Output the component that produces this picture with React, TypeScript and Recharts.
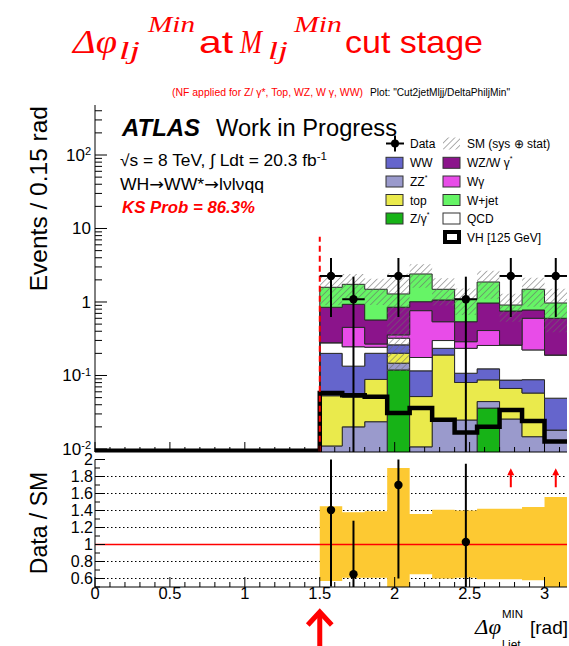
import React from 'react';
import {
  ComposedChart,
  Area,
  Line,
  Scatter,
  ErrorBar,
  XAxis,
  YAxis,
  ReferenceLine,
  CartesianGrid,
} from 'recharts';

// ---------------- data ----------------
const binLow = [0, 0.15, 0.3, 0.45, 0.6, 0.75, 0.9, 1.05, 1.2, 1.35, 1.5, 1.65, 1.8, 1.95, 2.1, 2.25, 2.4, 2.55, 2.7, 2.85, 3.0];
const xMax = 3.15;

const zgamma = [0, 0, 0, 0, 0, 0, 0, 0, 0, 0, 0, 0, 0, 0.119, 0, 0, 0, 0.036, 0, 0, 0];
const zz = [0, 0, 0, 0, 0, 0, 0, 0, 0, 0, 0.011, 0.02, 0.0235, 0.028, 0.0107, 0.024, 0.0248, 0.0082, 0.0256, 0.0147, 0.0181];
const topq = [0, 0, 0, 0, 0, 0, 0, 0, 0, 0, 0.042, 0.031, 0.065, 0.054, 0.041, 0.166, 0.0555, 0.043, 0.041, 0.043, 0];
const ww = [0, 0, 0, 0, 0, 0, 0, 0, 0, 0, 0.147, 0.083, 0.112, 0.06, 0.064, 0.044, 0.027, 0.036, 0.02, 0.03, 0.031];
const qcd = [0, 0, 0, 0, 0, 0, 0, 0, 0, 0, 0.079, 0.112, 0.042, 0.061, 0.06, 0.065, 0.127, 0.133, 0.173, 0.135, 0.141];
const wgamma = [0, 0, 0, 0, 0, 0, 0, 0, 0, 0, 0, 0.206, 0.026, 0.035, 0.587, 0.24, 0.054, 0.153, 0, 0.378, 0];
const wz = [0, 0, 0, 0, 0, 0, 0, 0, 0, 0, 0.568, 0.478, 0.301, 0.492, 0.247, 0.526, 0.251, 0.56, 0.494, 0.178, 0.41];
const wjet = [0, 0, 0, 0, 0, 0, 0, 0, 0, 0, 0.738, 0.81, 0.92, 0.438, 1.395, 0.424, 0.549, 0.902, 0.156, 0.711, 0.369];
const vh = [0.0095, 0.0095, 0.0095, 0.0095, 0.0095, 0.0095, 0.0095, 0.0095, 0.0095, 0.0095, 0.058, 0.054, 0.0515, 0.031, 0.036, 0.025, 0.0167, 0.02, 0.034, 0.024, 0.0126];

// relative SM uncertainty (lower / upper) per bin
const bandUp = [1, 1, 1, 1, 1, 1, 1, 1, 1, 1, 1.45, 1.38, 1.39, 1.9, 1.36, 1.41, 1.4, 1.42, 1.42, 1.44, 1.56];
const bandDn = [1, 1, 1, 1, 1, 1, 1, 1, 1, 1, 0.57, 0.61, 0.61, 0.09, 0.65, 0.6, 0.61, 0.59, 0.59, 0.58, 0.4];

const dataX = [1.575, 1.725, 2.025, 2.475, 2.775, 3.075];
const dataY = [2.26, 1.09, 2.26, 1.09, 2.26, 2.26];
const dataErrUp = [1.71, 1.12, 1.71, 1.12, 1.71, 1.71];
const dataErrDn = [1.635, 1.09, 1.635, 1.09, 1.635, 1.635];

const ratioX = [1.575, 1.725, 2.025, 2.475];
const ratioY = [1.405, 0.65, 1.7, 1.03];
const ratioErr = [0.9, 0.63, 1.1, 0.92];
const arrowX = [2.775, 3.075];
const arrowY = [1.78, 1.78];

const cutValue = 1.5;
const cutLineTop = 7.7;

const yDecades = [0.01, 0.1, 1, 10, 100];
const YMIN = 0.0091;
const YMAX = 479;
const RMIN = 0.5;
const RMAX = 2;
const ratioGrid = [0.6, 0.8, 1.2, 1.4, 1.6, 1.8];

// ---------------- styling ----------------
const FONT = "'Liberation Sans', Arial, Helvetica, sans-serif";
const SERIF = "'Liberation Serif', 'DejaVu Serif', serif";

const layers = [
  { key: 'zgamma', vals: zgamma, color: '#17b317' },
  { key: 'zz', vals: zz, color: '#9a9acc' },
  { key: 'top', vals: topq, color: '#eaea4c' },
  { key: 'ww', vals: ww, color: '#6565cc' },
  { key: 'qcd', vals: qcd, color: '#ffffff' },
  { key: 'wgamma', vals: wgamma, color: '#e84ce8' },
  { key: 'wz', vals: wz, color: '#8b148b' },
  { key: 'wjet', vals: wjet, color: '#66f466' },
];

const FLOOR = 1e-4;
const rows: any[] = [];
for (let i = 0; i <= binLow.length; i++) {
  const b = Math.min(i, binLow.length - 1);
  const row: any = { x: i < binLow.length ? binLow[i] : xMax };
  let cum = 0;
  layers.forEach((l) => {
    const lo = cum;
    cum += l.vals[b];
    row[l.key] = [Math.max(lo, FLOOR), Math.max(cum, FLOOR)];
  });
  row.band = cum > 0 ? [cum * bandDn[b], cum * bandUp[b]] : [FLOOR, FLOOR];
  row.rband = [bandDn[b], bandUp[b]];
  row.vh = vh[b];
  rows.push(row);
}

const dataPts = dataX.map((x, i) => {
  const lowEnd = Math.max(dataY[i] - dataErrDn[i], YMIN);
  return { x, y: dataY[i], ey: [dataY[i] - lowEnd, dataErrUp[i]], ex: 0.075 };
});
const ratioPts = ratioX.map((x, i) => {
  const lo = Math.max(ratioY[i] - ratioErr[i], RMIN);
  const hi = Math.min(ratioY[i] + ratioErr[i], RMAX);
  return { x, y: ratioY[i], ey: [ratioY[i] - lo, hi - ratioY[i]] };
});
const arrowPts = arrowX.map((x, i) => ({ x, y: arrowY[i] }));

const xTicks = Array.from({ length: 32 }, (_, i) => i / 10);
const yLogTicks = yDecades
  .flatMap((d) => [1, 2, 3, 4, 5, 6, 7, 8, 9].map((m) => +(d * m).toPrecision(3)))
  .filter((v) => v <= YMAX);
const rTicks = Array.from({ length: 16 }, (_, i) => +(0.5 + i / 10).toFixed(1));

// ---------------- tick renderers ----------------
const XTick = (props: any) => {
  const { x, y, payload, dir, showLabel } = props;
  const v = payload.value;
  const major = Math.abs(v * 2 - Math.round(v * 2)) < 1e-6;
  const len = major ? 10 : 5;
  const y2 = dir === 'up' ? y - len : y + len;
  return (
    <g>
      <line x1={x} y1={y} x2={x} y2={y2} stroke="#000" strokeWidth={1} />
      {showLabel && major ? (
        <text x={x} y={y + 12} textAnchor="middle" fontSize={16.5} fontFamily={FONT} fill="#000">
          {String(v)}
        </text>
      ) : null}
    </g>
  );
};

const LogTick = (props: any) => {
  const { x, y, payload, side } = props;
  const v = payload.value;
  const lg = Math.log10(v);
  const e = Math.round(lg);
  const major = Math.abs(lg - e) < 1e-6;
  const len = major ? 12 : 7;
  const sgn = side === 'right' ? -1 : 1;
  let label: any = null;
  if (side !== 'right' && major) {
    label = (
      <text x={x - 4} y={y} dy="0.35em" textAnchor="end" fontSize={17} fontFamily={FONT} fill="#000">
        {e === 0 ? '1' : e === 1 ? '10' : (
          <>
            10<tspan dy="-0.5em" fontSize={11}>{String(e)}</tspan>
          </>
        )}
      </text>
    );
  }
  return (
    <g>
      <line x1={x} y1={y} x2={x + sgn * len} y2={y} stroke="#000" strokeWidth={1} />
      {label}
    </g>
  );
};

const RTick = (props: any) => {
  const { x, y, payload, side } = props;
  const v = payload.value;
  const major = Math.abs(v * 5 - Math.round(v * 5)) < 1e-6 && v > 0.55;
  const len = major ? 10 : 5;
  const sgn = side === 'right' ? -1 : 1;
  return (
    <g>
      <line x1={x} y1={y} x2={x + sgn * len} y2={y} stroke="#000" strokeWidth={1} />
      {side !== 'right' && major ? (
        <text x={x - 2} y={y} dy="0.35em" textAnchor="end" fontSize={16} fontFamily={FONT} fill="#000">
          {String(+v.toFixed(1))}
        </text>
      ) : null}
    </g>
  );
};

const DataDot = (p: any) => <circle cx={p.cx} cy={p.cy} r={4.2} fill="#000" />;
const RedArrow = (p: any) => (
  <g>
    <line x1={p.cx} y1={p.cy + 9} x2={p.cx} y2={p.cy - 4} stroke="#ff0000" strokeWidth={2} />
    <path d={`M${p.cx - 3.5},${p.cy - 3} L${p.cx},${p.cy - 10} L${p.cx + 3.5},${p.cy - 3} Z`} fill="#ff0000" />
  </g>
);

const CutArrow = (props: any) => {
  const vb = props.viewBox || {};
  const x = vb.x;
  const yb = (vb.y || 0) + (vb.height || 0);
  if (x == null) return null;
  return (
    <g>
      <line x1={x} y1={yb + 27} x2={x} y2={yb + 62} stroke="#ff0000" strokeWidth={5} />
      <path d={`M${x - 12},${yb + 38} L${x},${yb + 25} L${x + 12},${yb + 38}`} stroke="#ff0000" strokeWidth={5} fill="none" />
    </g>
  );
};

// ---------------- overlay (texts & legend) ----------------
const legendRows = [143.5, 162.8, 181.5, 200, 218.5, 237];
const legendCol1 = [
  { label: 'WW', color: '#6565cc', star: false },
  { label: 'ZZ', color: '#9a9acc', star: true },
  { label: 'top', color: '#eaea4c', star: false },
  { label: 'Z/γ', color: '#17b317', star: true },
];
const legendCol2 = [
  { label: 'WZ/W γ', color: '#8b148b', star: true },
  { label: 'Wγ', color: '#e84ce8', star: false },
  { label: 'W+jet', color: '#66f466', star: false },
  { label: 'QCD', color: '#ffffff', star: false },
];

const ARROWFONT = "'DejaVu Sans', sans-serif";

const Overlay = () => (
  <svg width={569} height={646} style={{ position: 'absolute', left: 0, top: 0, pointerEvents: 'none' }}>
    <defs>
      <pattern id="hatchL" width="4.5" height="4.5" patternUnits="userSpaceOnUse" patternTransform="rotate(45)">
        <line x1="0" y1="0" x2="0" y2="4.5" stroke="#777" strokeWidth="1.2" />
      </pattern>
    </defs>
    {/* title */}
    <g fill="#ff0000">
      <text x={73} y={53} fontFamily={SERIF} fontStyle="italic" fontSize={34} textLength={44} lengthAdjust="spacingAndGlyphs">Δφ</text>
      <text x={119} y={59} fontFamily={SERIF} fontStyle="italic" fontSize={25} textLength={21} lengthAdjust="spacingAndGlyphs">lj</text>
      <text x={148} y={32} fontFamily={SERIF} fontStyle="italic" fontSize={24} textLength={47} lengthAdjust="spacingAndGlyphs">Min</text>
      <text x={199} y={53} fontFamily={FONT} fontSize={32} textLength={34} lengthAdjust="spacingAndGlyphs">at</text>
      <text x={240} y={53} fontFamily={SERIF} fontStyle="italic" fontSize={33} textLength={22} lengthAdjust="spacingAndGlyphs">M</text>
      <text x={268} y={59} fontFamily={SERIF} fontStyle="italic" fontSize={25} textLength={20} lengthAdjust="spacingAndGlyphs">lj</text>
      <text x={294} y={32} fontFamily={SERIF} fontStyle="italic" fontSize={24} textLength={48} lengthAdjust="spacingAndGlyphs">Min</text>
      <text x={345} y={53} fontFamily={FONT} fontSize={32} textLength={138} lengthAdjust="spacingAndGlyphs">cut stage</text>
    </g>
    <text x={172} y={96} fontFamily={FONT} fontSize={10} fill="#ff0000" textLength={191} lengthAdjust="spacingAndGlyphs">
      (NF applied for Z/ γ*, Top, WZ, W γ, WW)
    </text>
    <text x={370} y={96} fontFamily={FONT} fontSize={10} fill="#000" textLength={140} lengthAdjust="spacingAndGlyphs">
      Plot: "Cut2jetMljj/DeltaPhiljMin"
    </text>

    {/* ATLAS block */}
    <text x={122} y={136} fontFamily={FONT} fontSize={23} fontWeight="bold" fontStyle="italic" fill="#000" textLength={78} lengthAdjust="spacingAndGlyphs">ATLAS</text>
    <text x={216} y={136} fontFamily={FONT} fontSize={23} fill="#000" textLength={181} lengthAdjust="spacingAndGlyphs">Work in Progress</text>
    <text x={120} y={166} fontFamily={FONT} fontSize={16.5} fill="#000" textLength={207} lengthAdjust="spacingAndGlyphs">
      √s = 8 TeV, ∫ Ldt = 20.3 fb<tspan dy="-6" fontSize={11}>-1</tspan>
    </text>
    <text x={120} y={190} fontFamily={FONT} fontSize={16.5} fill="#000" textLength={144} lengthAdjust="spacingAndGlyphs">
      WH<tspan fontFamily={ARROWFONT}>→</tspan>WW*<tspan fontFamily={ARROWFONT}>→</tspan>lνlνqq
    </text>
    <text x={122} y={213} fontFamily={FONT} fontSize={16.5} fontWeight="bold" fontStyle="italic" fill="#ff0000" textLength={133} lengthAdjust="spacingAndGlyphs">
      KS Prob = 86.3%
    </text>

    {/* legend */}
    <g fontFamily={FONT} fontSize={12} fill="#000">
      <line x1={386} y1={legendRows[0]} x2={404} y2={legendRows[0]} stroke="#000" strokeWidth={2} />
      <line x1={395} y1={legendRows[0] - 8} x2={395} y2={legendRows[0] + 8} stroke="#000" strokeWidth={2} />
      <circle cx={395} cy={legendRows[0]} r={4} fill="#000" />
      <text x={410} y={legendRows[0] + 4.5}>Data</text>
      <rect x={443} y={legendRows[0] - 6} width={17} height={12} fill="url(#hatchL)" />
      <text x={467} y={legendRows[0] + 4.5}>SM (sys  ⊕ stat)</text>
      {legendCol1.map((e, i) => (
        <g key={'c1' + i}>
          <rect x={386} y={legendRows[i + 1] - 5.5} width={17} height={11} fill={e.color} stroke="#333" strokeWidth={1} />
          <text x={410} y={legendRows[i + 1] + 4.5}>
            {e.label}
            {e.star ? <tspan dy="-6" fontSize={7}>*</tspan> : null}
          </text>
        </g>
      ))}
      {legendCol2.map((e, i) => (
        <g key={'c2' + i}>
          <rect x={443} y={legendRows[i + 1] - 5.5} width={17} height={11} fill={e.color} stroke="#333" strokeWidth={1} />
          <text x={467} y={legendRows[i + 1] + 4.5}>
            {e.label}
            {e.star ? <tspan dy="-6" fontSize={7}>*</tspan> : null}
          </text>
        </g>
      ))}
      <rect x={445} y={legendRows[5] - 5} width={14} height={10} fill="#fff" stroke="#000" strokeWidth={4} />
      <text x={467} y={legendRows[5] + 4.5}>VH [125 GeV]</text>
    </g>

    {/* axis titles */}
    <text transform="translate(47,106) rotate(-90)" textAnchor="end" fontFamily={FONT} fontSize={24.5} fill="#000">
      Events / 0.15 rad
    </text>
    <text transform="translate(47,523) rotate(-90)" textAnchor="middle" fontFamily={FONT} fontSize={23} fill="#000">
      Data / SM
    </text>
    <text x={475} y={634} fontFamily={SERIF} fontStyle="italic" fontSize={22} fill="#000" textLength={26} lengthAdjust="spacingAndGlyphs">Δφ</text>
    <text x={502} y={618} fontFamily={FONT} fontSize={11.5} fill="#000">MIN</text>
    <text x={502} y={649} fontFamily={FONT} fontSize={12} fill="#000">l,jet</text>
    <text x={530} y={634} fontFamily={FONT} fontSize={19} fill="#000">[rad]</text>
  </svg>
);

// ---------------- charts ----------------
const UpperChart = () => (
  <ComposedChart width={569} height={460} data={rows} margin={{ top: 105, right: 2, bottom: 0, left: 0 }}>
    <defs>
      <pattern id="hatchU" width="4.5" height="4.5" patternUnits="userSpaceOnUse" patternTransform="rotate(45)">
        <line x1="0" y1="0" x2="0" y2="4.5" stroke="#6a6a6a" strokeWidth="1.1" />
      </pattern>
    </defs>
    <XAxis
      type="number"
      dataKey="x"
      domain={[0, xMax]}
      ticks={xTicks}
      interval={0}
      allowDataOverflow
      height={8}
      tickSize={0}
      tickMargin={0}
      tickLine={false}
      axisLine={{ stroke: '#000' }}
      tick={(p: any) => <XTick {...p} dir="up" showLabel={false} />}
    />
    <XAxis
      xAxisId="t"
      orientation="top"
      type="number"
      domain={[0, xMax]}
      ticks={xTicks}
      interval={0}
      allowDataOverflow
      height={0}
      tickSize={0}
      tickMargin={0}
      tickLine={false}
      axisLine={{ stroke: '#000' }}
      tick={(p: any) => <XTick {...p} dir="down" showLabel={false} />}
    />
    <YAxis
      scale="log"
      type="number"
      domain={[YMIN, YMAX]}
      ticks={yLogTicks}
      interval={0}
      allowDataOverflow
      width={95}
      tickSize={0}
      tickMargin={0}
      tickLine={false}
      axisLine={{ stroke: '#000' }}
      tick={(p: any) => <LogTick {...p} side="left" />}
    />
    <YAxis
      yAxisId="r"
      orientation="right"
      scale="log"
      type="number"
      domain={[YMIN, YMAX]}
      ticks={yLogTicks}
      interval={0}
      allowDataOverflow
      width={0}
      tickSize={0}
      tickMargin={0}
      tickLine={false}
      axisLine={{ stroke: '#000' }}
      tick={(p: any) => <LogTick {...p} side="right" />}
    />
    {layers.map((l) => (
      <Area
        key={l.key}
        type="stepAfter"
        dataKey={l.key}
        fill={l.color}
        fillOpacity={1}
        stroke="#2a2a2a"
        strokeWidth={1}
        dot={false}
        activeDot={false}
        isAnimationActive={false}
      />
    ))}
    <Area
      type="stepAfter"
      dataKey="band"
      fill="url(#hatchU)"
      fillOpacity={1}
      stroke="none"
      dot={false}
      activeDot={false}
      isAnimationActive={false}
    />
    <Line
      type="stepAfter"
      dataKey="vh"
      stroke="#000"
      strokeWidth={4.5}
      dot={false}
      activeDot={false}
      isAnimationActive={false}
    />
    <ReferenceLine
      segment={[{ x: cutValue, y: 0.0092 }, { x: cutValue, y: cutLineTop }]}
      stroke="#ff0000"
      strokeWidth={2}
      strokeDasharray="6 4"
    />
    <Scatter data={dataPts} dataKey="y" shape={DataDot} isAnimationActive={false}>
      <ErrorBar dataKey="ey" direction="y" width={0} stroke="#000" strokeWidth={2} isAnimationActive={false} />
      <ErrorBar dataKey="ex" direction="x" width={0} stroke="#000" strokeWidth={2} isAnimationActive={false} />
    </Scatter>
  </ComposedChart>
);

const RatioChart = () => (
  <ComposedChart width={569} height={206} data={rows} margin={{ top: 19.5, right: 2, bottom: 29, left: 0 }}>
    <CartesianGrid horizontal vertical={false} horizontalValues={ratioGrid} stroke="#000" strokeDasharray="1.5 2.5" />
    <XAxis
      type="number"
      dataKey="x"
      domain={[0, xMax]}
      ticks={xTicks}
      interval={0}
      allowDataOverflow
      height={30}
      tickSize={0}
      tickMargin={0}
      tickLine={false}
      axisLine={{ stroke: '#000' }}
      tick={(p: any) => <XTick {...p} dir="up" showLabel />}
    />
    <XAxis
      xAxisId="t"
      orientation="top"
      type="number"
      domain={[0, xMax]}
      ticks={xTicks}
      interval={0}
      allowDataOverflow
      height={0}
      tickSize={0}
      tickMargin={0}
      tickLine={false}
      axisLine={{ stroke: '#000' }}
      tick={(p: any) => <XTick {...p} dir="down" showLabel={false} />}
    />
    <YAxis
      type="number"
      domain={[RMIN, RMAX]}
      ticks={rTicks}
      interval={0}
      allowDataOverflow
      width={95}
      tickSize={0}
      tickMargin={0}
      tickLine={false}
      axisLine={{ stroke: '#000' }}
      tick={(p: any) => <RTick {...p} side="left" />}
    />
    <YAxis
      yAxisId="r"
      orientation="right"
      type="number"
      domain={[RMIN, RMAX]}
      ticks={rTicks}
      interval={0}
      allowDataOverflow
      width={0}
      tickSize={0}
      tickMargin={0}
      tickLine={false}
      axisLine={{ stroke: '#000' }}
      tick={(p: any) => <RTick {...p} side="right" />}
    />
    <Area
      type="stepAfter"
      dataKey="rband"
      fill="#fdc932"
      fillOpacity={1}
      stroke="none"
      dot={false}
      activeDot={false}
      isAnimationActive={false}
    />
    <ReferenceLine y={1} stroke="#ff0000" strokeWidth={1.3} />
    <ReferenceLine x={cutValue} stroke="none" label={(p: any) => <CutArrow {...p} />} />
    <Scatter data={ratioPts} dataKey="y" shape={DataDot} isAnimationActive={false}>
      <ErrorBar dataKey="ey" direction="y" width={0} stroke="#000" strokeWidth={2} isAnimationActive={false} />
    </Scatter>
    <Scatter data={arrowPts} dataKey="y" shape={RedArrow} isAnimationActive={false} />
  </ComposedChart>
);

export default function App() {
  return (
    <div style={{ position: 'absolute', left: 0, top: 0, width: 569, height: 646, background: '#fff', overflow: 'hidden' }}>
      <div style={{ position: 'absolute', left: 0, top: 0 }}>
        <UpperChart />
      </div>
      <div style={{ position: 'absolute', left: 0, top: 440 }}>
        <RatioChart />
      </div>
      <Overlay />
    </div>
  );
}
